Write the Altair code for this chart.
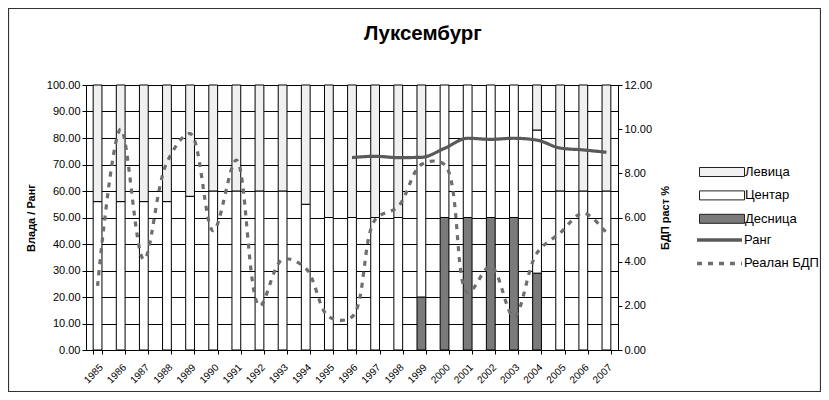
import altair as alt
import pandas as pd

years = [str(y) for y in range(1985, 2008)]
desnica = [0, 0, 0, 0, 0, 0, 0, 0, 0, 0, 0, 0, 0, 0, 20, 50, 50, 50, 50, 29, 0, 0, 0]
centar = [56, 56, 56, 56, 58, 60, 60, 60, 60, 55, 50, 50, 50, 50, 53, 50, 50, 50, 50, 54, 60, 60, 60]
levica = [44, 44, 44, 44, 42, 40, 40, 40, 40, 45, 50, 50, 50, 50, 27, 0, 0, 0, 0, 17, 40, 40, 40]

rang_years = [str(y) for y in range(1996, 2008)]
rang = [72.6, 73.1, 72.6, 72.7, 76.1, 79.9, 79.5, 79.9, 79.2, 76.2, 75.5, 74.6]

gdp = [2.9, 10.0, 4.1, 8.5, 9.8, 5.4, 8.6, 2.0, 4.1, 3.7, 1.5, 1.5, 5.9, 6.5,
       8.4, 8.4, 2.6, 3.8, 1.5, 4.4, 5.3, 6.2, 5.3]

bar_series = ["Левица", "Центар", "Десница"]
bar_colors = ["#f0f0f0", "#ffffff", "#7a7a7a"]
line_series = ["Ранг", "Реалан БДП"]
line_colors = ["#595959", "#6e6e6e"]

rows = []
for i, yr in enumerate(years):
    for name, vals, o in [("Десница", desnica, 0), ("Центар", centar, 1), ("Левица", levica, 2)]:
        if vals[i] > 0:
            rows.append({"year": yr, "series": name, "value": vals[i], "ord": o})
bars_df = pd.DataFrame(rows)
rang_df = pd.DataFrame({"year": rang_years, "value": rang, "series": "Ранг"})
gdp_df = pd.DataFrame({"year": years, "gdp": gdp, "series": "Реалан БДП"})

FONT = "Liberation Sans"

x_axis = alt.Axis(labelAngle=315, labelFontSize=10, labelColor="black", labelFont=FONT,
                  tickBand="extent", tickSize=4, tickColor="black", domainColor="black",
                  labelPadding=8, title=None, grid=False)
x_enc = alt.X("year:N", sort=years,
              scale=alt.Scale(paddingInner=0.62, paddingOuter=0.31), axis=x_axis)

left_axis = alt.Axis(values=list(range(0, 101, 10)), format=".2f", labelFontSize=11,
                     labelColor="black", labelFont=FONT, tickSize=4, tickColor="black",
                     domainColor="black", grid=True, gridColor="black", gridWidth=1,
                     gridOpacity=1, title="Влада / Ранг", titleFontSize=11,
                     titleFont=FONT, titleFontWeight="bold", titleColor="black",
                     titlePadding=10)
left_scale = alt.Scale(domain=[0, 100], nice=False)

fill_legend = alt.Legend(orient="none", legendX=613, legendY=80, title=None,
                         symbolType="M-1,-0.2H1V0.2H-1Z", symbolSize=2025,
                         symbolStrokeColor="#222222", symbolStrokeWidth=1,
                         labelFontSize=13, labelFont=FONT, labelColor="black",
                         clipHeight=14, rowPadding=9.4, labelOffset=0, padding=0)
line_legend = alt.Legend(orient="none", legendX=609, legendY=148, title=None,
                         symbolType="stroke", symbolSize=2025, symbolStrokeWidth=3.5,
                         labelFontSize=13, labelFont=FONT, labelColor="black",
                         clipHeight=14, rowPadding=9.4, labelOffset=0, padding=0)
stroke_enc = alt.Stroke("series:N", scale=alt.Scale(domain=line_series, range=line_colors),
                        legend=line_legend)
dash_enc = alt.StrokeDash("series:N", scale=alt.Scale(domain=line_series, range=[[1, 0], [5, 6]]),
                          legend=line_legend)

frame = alt.Chart(pd.DataFrame({"k": [0]})).mark_rect(
    fill="transparent", stroke="#333333", strokeWidth=1.2
).encode(x=alt.value(-77.5), x2=alt.value(734.5), y=alt.value(-76.5), y2=alt.value(306.5))

bars = alt.Chart(bars_df).mark_bar(stroke="black", strokeWidth=1).encode(
    x=x_enc,
    y=alt.Y("value:Q", stack="zero", scale=left_scale, axis=left_axis),
    fill=alt.Fill("series:N", scale=alt.Scale(domain=bar_series, range=bar_colors),
                  legend=fill_legend),
    order=alt.Order("ord:Q"),
)

rang_line = alt.Chart(rang_df).mark_line(strokeWidth=3.2, interpolate="monotone").encode(
    x=x_enc,
    y=alt.Y("value:Q", scale=left_scale, axis=left_axis),
    stroke=stroke_enc,
    strokeDash=dash_enc,
)

gdp_line = alt.Chart(gdp_df).mark_line(strokeWidth=3.2, interpolate="catmull-rom").encode(
    x=x_enc,
    y=alt.Y("gdp:Q", scale=alt.Scale(domain=[0, 12], nice=False),
            axis=alt.Axis(orient="right", values=list(range(0, 13, 2)), format=".2f",
                          labelFontSize=11, labelColor="black", labelFont=FONT,
                          tickSize=4, tickColor="black", domainColor="black", grid=False,
                          title="БДП раст %", titleFontSize=11, titleFont=FONT,
                          titleFontWeight="bold", titleColor="black", titleAngle=270,
                          titlePadding=19)),
    stroke=stroke_enc,
    strokeDash=dash_enc,
)

left = alt.layer(frame, bars, rang_line)
chart = alt.layer(left, gdp_line).resolve_scale(y="independent").properties(
    width=532, height=265,
    padding={"left": 78, "top": 77, "right": 203, "bottom": 42},
    autosize=alt.AutoSizeParams(type="none"),
    title=alt.TitleParams("Луксембург", fontSize=20.5, font=FONT, fontWeight="bold",
                          color="black", anchor="middle", dx=71, dy=53, offset=0,
                          baseline="alphabetic"),
).configure_view(stroke="transparent").configure(font=FONT)

chart.save("out.html", embed_options={"renderer": "svg", "actions": False})
